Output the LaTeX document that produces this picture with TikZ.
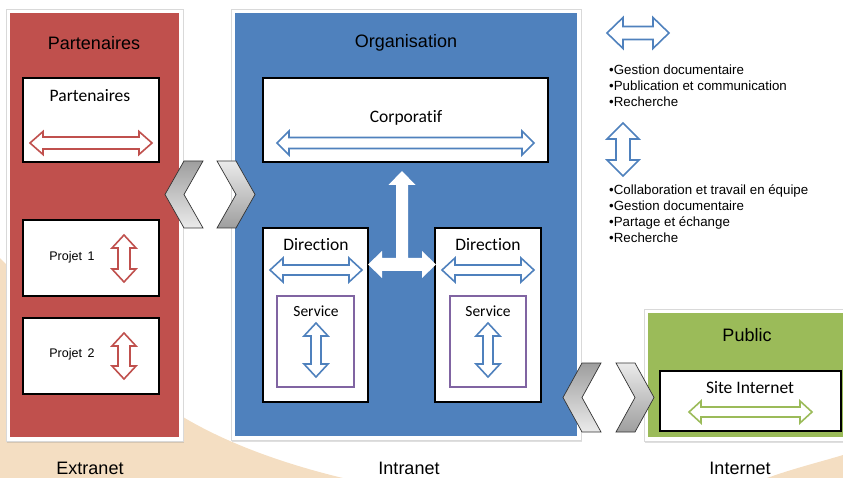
\documentclass[tikz,border=0pt]{standalone}
\usepackage{fontspec}
\setmainfont{Liberation Sans}
\newfontfamily\calib[Ligatures=NoCommon]{Carlito}
\usetikzlibrary{shadows}
\definecolor{pred}{RGB}{192,80,77}
\definecolor{pblue}{RGB}{79,129,189}
\definecolor{pgreen}{RGB}{155,187,89}
\definecolor{ppurple}{RGB}{128,100,162}
\definecolor{beige}{RGB}{244,222,194}
\newcommand{\HDA}[7]{\draw[#1] (#2,#4) -- (#2+#5,#4-#6) -- (#2+#5,#4-#7) -- (#3-#5,#4-#7) -- (#3-#5,#4-#6) -- (#3,#4) -- (#3-#5,#4+#6) -- (#3-#5,#4+#7) -- (#2+#5,#4+#7) -- (#2+#5,#4+#6) -- cycle;}
\newcommand{\VDA}[7]{\draw[#1] (#4,#2) -- (#4+#6,#2+#5) -- (#4+#7,#2+#5) -- (#4+#7,#3-#5) -- (#4+#6,#3-#5) -- (#4,#3) -- (#4-#6,#3-#5) -- (#4-#7,#3-#5) -- (#4-#7,#2+#5) -- (#4-#6,#2+#5) -- cycle;}
\tikzset{
  frame/.style={fill=white, draw=black!15, line width=0.5pt, drop shadow={shadow xshift=1pt, shadow yshift=-1.5pt, opacity=0.25}},
  ibox/.style={draw=black, fill=white, line width=1.8pt, inner sep=0pt},
  sbox/.style={draw=ppurple, fill=white, line width=1.5pt, inner sep=0pt},
  title/.style={font=\fontsize{18}{20}\selectfont, inner sep=0pt},
  clab/.style={font=\calib\fontsize{17.5}{20}\selectfont, inner sep=0pt},
  slab/.style={font=\calib\fontsize{15.5}{18}\selectfont, inner sep=0pt},
  plab/.style={font=\fontsize{12.5}{14}\selectfont, inner sep=0pt},
  legend/.style={font=\fontsize{13.3}{15.8}\selectfont, align=left, inner sep=0pt, anchor=west},
  redarr/.style={draw=pred, fill=white, line width=1.6pt},
  bluearr/.style={draw=pblue, fill=white, line width=1.6pt},
  greenarr/.style={draw=pgreen, fill=white, line width=1.6pt},
  chevA/.style={draw=black!80, line width=0.7pt, top color=black!38, bottom color=black!8},
  chevB/.style={draw=black!80, line width=0.7pt, top color=black!8, bottom color=black!38},
}
\begin{document}
\begin{tikzpicture}[x=1pt,y=-1pt]
\useasboundingbox (0,0) rectangle (843,478);
\clip (0,0) rectangle (843,478);
% background
\fill[beige] (0,258) .. controls (60,320) and (130,385) .. (183,417)
  .. controls (330,505) and (620,530) .. (767,478)
  .. controls (795,468) and (820,462) .. (843,455) -- (843,478) -- (0,478) -- cycle;
% panels
\draw[frame] (6,9) rectangle (183,441);
\fill[pred] (10,13) rectangle (179,437);
\draw[frame] (231,9) rectangle (581,440);
\fill[pblue] (235,13) rectangle (577,436);
\draw[frame] (644,309) rectangle (860,441);
\fill[pgreen] (648,313) rectangle (860,437);
% Extranet panel
\node[title] (tpart) at (94,43) {Partenaires};
\node[ibox, minimum width=136, minimum height=84] (partbox) at (91,120) {};
\node[clab] (lpart) at (90,96) {Partenaires};
\HDA{redarr}{30}{152}{143}{13}{11.5}{6}
\node[ibox, minimum width=136, minimum height=76] (proj1) at (91,258) {};
\node[plab] (lproj1) at (72,257) {Projet\hspace{0.45em}1};
\VDA{redarr}{235}{282}{124}{13}{12}{6}
\node[ibox, minimum width=136, minimum height=76] (proj2) at (91,356) {};
\node[plab] (lproj2) at (72,354) {Projet\hspace{0.45em}2};
\VDA{redarr}{333}{379}{124}{13}{12}{6}
% Organisation panel
\node[title] (torg) at (406,43) {Organisation};
\node[ibox, minimum width=285, minimum height=84] (corp) at (405.5,120) {};
\node[clab] (lcorp) at (406,118) {Corporatif};
\HDA{bluearr}{277}{534}{143}{12}{12}{5.5}
\node[ibox, minimum width=105, minimum height=174] (dirL) at (315.5,315) {};
\node[ibox, minimum width=106, minimum height=174] (dirR) at (488,315) {};
\node[clab] (ldirL) at (316,245) {Direction};
\node[clab] (ldirR) at (488,245) {Direction};
\HDA{bluearr}{270}{362}{270}{13}{12}{5}
\HDA{bluearr}{442}{534}{270}{13}{12}{5}
\node[sbox, minimum width=77, minimum height=91] (servL) at (315.5,341.5) {};
\node[sbox, minimum width=76, minimum height=91] (servR) at (488,341.5) {};
\node[slab] (lservL) at (316,311) {Service};
\node[slab] (lservR) at (488,311) {Service};
\VDA{bluearr}{323}{377}{316}{13}{12}{5}
\VDA{bluearr}{323}{377}{488}{13}{12}{5}
% white T arrow
\fill[white] (402,171) -- (415.5,185) -- (408,185) -- (408,258) -- (422,258) -- (422,251) -- (436,264.5) -- (422,278) -- (422,271) -- (382,271) -- (382,278) -- (368,264.5) -- (382,251) -- (382,258) -- (396,258) -- (396,185) -- (388.5,185) -- cycle;
% Public panel
\node[title] (tpub) at (747,335) {Public};
\node[ibox, minimum width=181, minimum height=60] (site) at (750.5,401) {};
\node[clab] (lsite) at (750,388) {Site Internet};
\HDA{greenarr}{689}{812}{412}{12}{11}{5}
% chevrons
\draw[chevA] (184,161) -- (203,161) -- (184,194.5) -- (203,228) -- (184,228) -- (165,194.5) -- cycle;
\draw[chevB] (217,161) -- (236,161) -- (255,194.5) -- (236,228) -- (217,228) -- (236,194.5) -- cycle;
\draw[chevA] (582,363) -- (601,363) -- (582,397.5) -- (601,432) -- (582,432) -- (563,397.5) -- cycle;
\draw[chevB] (616,363) -- (635,363) -- (654,397.5) -- (635,432) -- (616,432) -- (635,397.5) -- cycle;
% legend
\HDA{bluearr}{607}{669}{33}{16}{15.5}{6.5}
\node[legend] (leg1) at (609,86) {•Gestion documentaire\\•Publication et communication\\•Recherche};
\VDA{bluearr}{123}{176}{623}{16}{16}{7}
\node[legend] (leg2) at (609,213.5) {•Collaboration et travail en équipe\\•Gestion documentaire\\•Partage et échange\\•Recherche};
% bottom labels
\node[title] (lext) at (90,468) {Extranet};
\node[title] (lint) at (409,468) {Intranet};
\node[title] (linet) at (740,468) {Internet};
\end{tikzpicture}
\end{document}
